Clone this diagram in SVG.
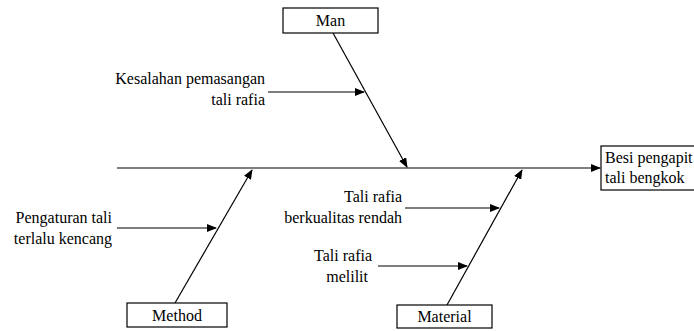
<svg xmlns="http://www.w3.org/2000/svg" width="694" height="331" viewBox="0 0 694 331">
<defs>
<marker id="ah" markerWidth="10" markerHeight="8" refX="9" refY="4" orient="auto" markerUnits="userSpaceOnUse">
<path d="M0,0 L10,4 L0,8 Z" fill="#000"/>
</marker>
<style>
.t{font-family:'Liberation Serif','Times New Roman',serif;font-size:16px;fill:#000}
.b{fill:#fff;stroke:#000;stroke-width:1.2}
.a{stroke:#000;stroke-width:1.2;fill:none;marker-end:url(#ah)}
</style>
</defs>
<rect width="694" height="331" fill="#fff"/>
<g id="connectors">
<line class="a" x1="117" y1="168" x2="600" y2="168"/>
<line class="a" x1="333" y1="33" x2="407" y2="167"/>
<line class="a" x1="175" y1="303" x2="252" y2="170"/>
<line class="a" x1="447" y1="305" x2="522" y2="170"/>
<line class="a" x1="268" y1="92" x2="364" y2="92"/>
<line class="a" x1="117" y1="228" x2="216" y2="228"/>
<line class="a" x1="405" y1="208" x2="499" y2="208"/>
<line class="a" x1="378" y1="266" x2="467" y2="266"/>
</g>
<g id="man"><rect class="b" x="283" y="8" width="95" height="25"/><text class="t" x="330.5" y="26" text-anchor="middle">Man</text></g>
<g id="method"><rect class="b" x="127" y="303" width="100" height="24"/><text class="t" x="177" y="321" text-anchor="middle">Method</text></g>
<g id="material"><rect class="b" x="397" y="305" width="95" height="23"/><text class="t" x="444.5" y="322" text-anchor="middle">Material</text></g>
<g id="effect"><rect class="b" x="601" y="146" width="100" height="44"/><text class="t" x="605" y="163">Besi pengapit</text><text class="t" x="605" y="183">tali bengkok</text></g>
<g id="cause1"><text class="t" x="265" y="84" text-anchor="end">Kesalahan pemasangan</text><text class="t" x="265" y="105" text-anchor="end">tali rafia</text></g>
<g id="cause2"><text class="t" x="112" y="223" text-anchor="end">Pengaturan tali</text><text class="t" x="112" y="244" text-anchor="end">terlalu kencang</text></g>
<g id="cause3"><text class="t" x="402" y="202" text-anchor="end">Tali rafia</text><text class="t" x="402" y="223" text-anchor="end">berkualitas rendah</text></g>
<g id="cause4"><text class="t" x="372" y="261" text-anchor="end">Tali rafia</text><text class="t" x="368" y="282" text-anchor="end">melilit</text></g>
</svg>
